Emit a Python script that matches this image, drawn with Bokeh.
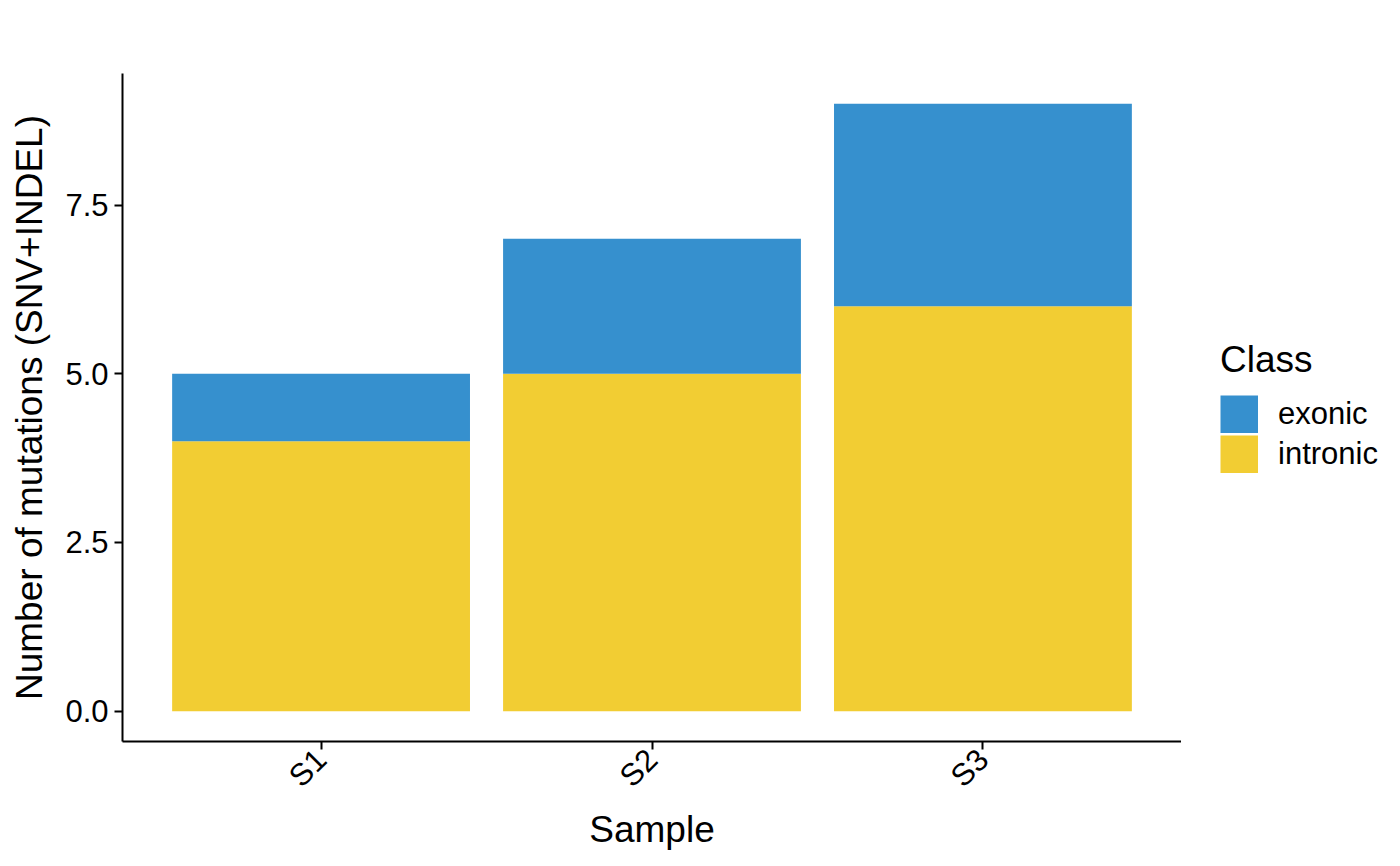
from bokeh.plotting import figure
from bokeh.layouts import row
from bokeh.models import Range1d, FixedTicker, Legend, LegendItem, ColumnDataSource, PrintfTickFormatter
from bokeh.embed import file_html
from bokeh.resources import INLINE
import math

samples = ["S1", "S2", "S3"]
x_pos = [1, 2, 3]
intronic = [4, 5, 6]
exonic = [1, 2, 3]
y_ticks = [0, 2.5, 5.0, 7.5]
classes = ["exonic", "intronic"]

BLUE = "#3690CE"
YELLOW = "#F2CD33"
FONT = "Liberation Sans"

source = ColumnDataSource(dict(x=x_pos, intronic=intronic, exonic=exonic))

p = figure(width=1181, height=866, output_backend="svg", toolbar_location=None,
           x_range=Range1d(0.4, 3.6), y_range=Range1d(-0.45, 9.45),
           min_border_left=122, min_border_right=0, min_border_top=73, min_border_bottom=125)

rs = p.vbar_stack(["intronic", "exonic"], x="x", width=0.9, color=[YELLOW, BLUE],
                  line_color=None, source=source)

p.xgrid.visible = False
p.ygrid.visible = False
p.outline_line_color = None
p.background_fill_color = "white"

p.xaxis.ticker = FixedTicker(ticks=x_pos)
p.xaxis.major_label_overrides = {x: s for x, s in zip(x_pos, samples)}
p.xaxis.major_label_orientation = math.pi / 4
p.yaxis.ticker = FixedTicker(ticks=y_ticks)
p.yaxis.formatter = PrintfTickFormatter(format="%.1f")

for ax in [p.xaxis, p.yaxis]:
    ax.axis_line_color = "black"
    ax.axis_line_width = 2
    ax.major_tick_line_color = "black"
    ax.major_tick_line_width = 2
    ax.major_tick_out = 8
    ax.major_tick_in = 0
    ax.minor_tick_line_color = None
    ax.major_label_text_font = FONT
    ax.major_label_text_font_size = "31px"
    ax.major_label_text_color = "black"
    ax.axis_label_text_font = FONT
    ax.axis_label_text_font_size = "37px"
    ax.axis_label_text_font_style = "normal"
    ax.axis_label_text_color = "black"

p.xaxis.axis_label = "Sample"
p.yaxis.axis_label = "Number of mutations (SNV+INDEL)"
p.xaxis.axis_label_standoff = 0
p.yaxis.axis_label_standoff = 12
p.xaxis.major_label_standoff = 5
p.yaxis.major_label_standoff = 6

# legend panel as a separate, axis-less figure
lf = figure(width=219, height=866, output_backend="svg", toolbar_location=None,
            x_range=Range1d(0, 1), y_range=Range1d(0, 1),
            x_axis_type=None, y_axis_type=None,
            min_border_left=0, min_border_right=0, min_border_top=0, min_border_bottom=0)
lf.xgrid.visible = False
lf.ygrid.visible = False
lf.outline_line_color = None
# off-range dummy renderers that only feed the legend swatches
# (a thick butt-capped line gives a full-size square swatch)
r_ex = lf.line(x=[10, 11], y=[10, 10], line_width=38, line_color=BLUE, line_cap="butt")
r_in = lf.line(x=[10, 11], y=[10, 10], line_width=38, line_color=YELLOW, line_cap="butt")

legend = Legend(items=[LegendItem(label=classes[0], renderers=[r_ex]),
                       LegendItem(label=classes[1], renderers=[r_in])],
                location=(39, 268), title="Class")
legend.title_text_font = FONT
legend.title_text_font_size = "37px"
legend.title_text_font_style = "normal"
legend.title_text_color = "black"
legend.title_standoff = 14
legend.label_text_font = FONT
legend.label_text_font_size = "31px"
legend.label_text_color = "black"
legend.glyph_width = 38
legend.glyph_height = 38
legend.label_height = 38
legend.label_standoff = 20
legend.spacing = 2
legend.padding = 0
legend.margin = 0
legend.border_line_color = None
legend.background_fill_alpha = 0
lf.add_layout(legend, "center")

layout = row(p, lf, spacing=0)
open("out.html", "w").write(file_html(layout, INLINE))
